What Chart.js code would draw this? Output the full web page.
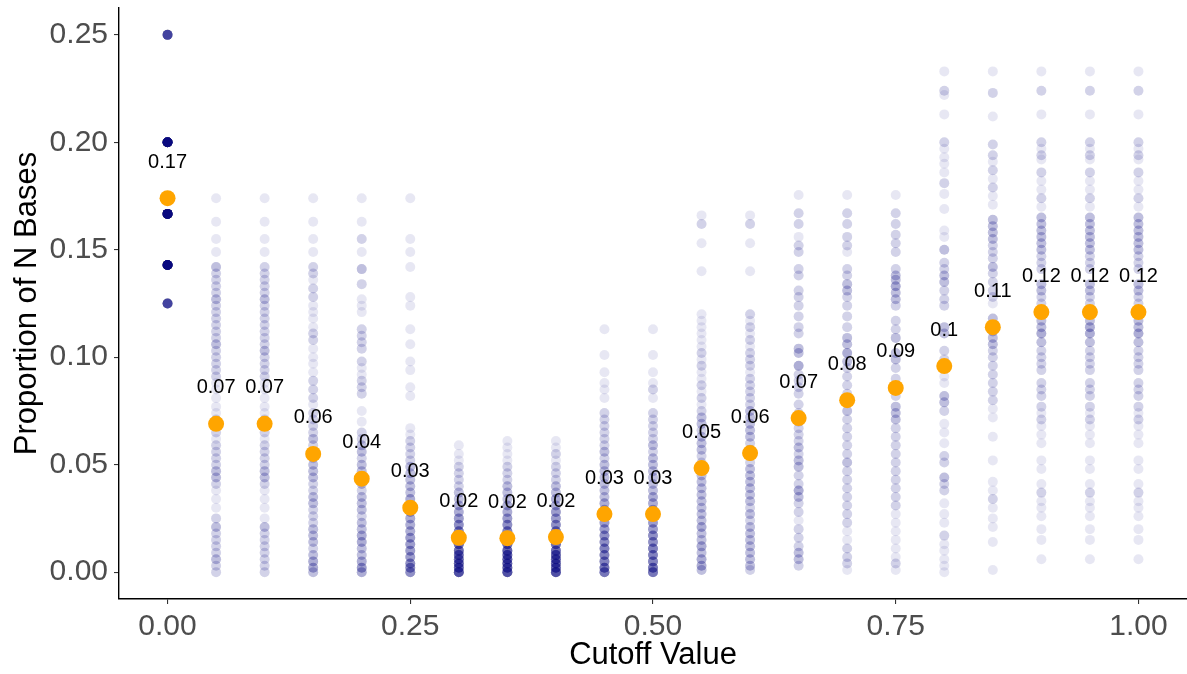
<!DOCTYPE html>
<html>
<head>
<meta charset="utf-8">
<script src="https://cdn.jsdelivr.net/npm/chart.js@4.4.1/dist/chart.umd.min.js"></script>
<style>
  html, body { margin: 0; padding: 0; background: #ffffff; }
  #wrap { width: 1187px; height: 674px; }
</style>
</head>
<body>
<div id="wrap"><canvas id="chart" width="1187" height="674"></canvas></div>
<script>
// cutoff values along the x axis
const cutoffs = [0.00, 0.05, 0.10, 0.15, 0.20, 0.25, 0.30, 0.35, 0.40, 0.45, 0.50,
                 0.55, 0.60, 0.65, 0.70, 0.75, 0.80, 0.85, 0.90, 0.95, 1.00];

// mean proportion per cutoff (orange dots) and their printed labels
const meanValues = [0.174, 0.069, 0.069, 0.055, 0.0435, 0.030, 0.016, 0.0158, 0.0163, 0.027, 0.027,
                    0.0484, 0.0554, 0.0717, 0.080, 0.0857, 0.0959, 0.114, 0.121, 0.121, 0.121];
const meanLabels = ['0.17', '0.07', '0.07', '0.06', '0.04', '0.03', '0.02', '0.02', '0.02', '0.03', '0.03',
                    '0.05', '0.06', '0.07', '0.08', '0.09', '0.1', '0.11', '0.12', '0.12', '0.12'];

// individual proportions per cutoff: distinct values ...
const spreadY = [
  [0.25, 0.2, 0.1667, 0.1429, 0.125],
  [0.174,0.163,0.155,0.149,0.142,0.139,0.136,0.133,0.130,0.127,0.124,0.121,0.118,0.115,0.112,0.109,0.106,0.103,0.100,0.097,0.094,0.091,0.088,0.085,0.081,0.077,0.074,0.071,0.068,0.065,0.062,0.059,0.056,0.053,0.050,0.047,0.044,0.041,0.038,0.034,0.030,0.025,0.021,0.018,0.015,0.012,0.009,0.006,0.003,0.000],
  [0.174,0.163,0.155,0.149,0.142,0.139,0.136,0.133,0.130,0.127,0.124,0.121,0.118,0.115,0.112,0.109,0.106,0.103,0.100,0.097,0.094,0.091,0.088,0.085,0.081,0.077,0.074,0.071,0.068,0.065,0.062,0.059,0.056,0.053,0.050,0.047,0.044,0.041,0.038,0.034,0.030,0.025,0.021,0.018,0.015,0.012,0.009,0.006,0.003,0.000],
  [0.174,0.163,0.155,0.149,0.142,0.139,0.136,0.132,0.128,0.124,0.121,0.118,0.114,0.111,0.108,0.104,0.100,0.097,0.093,0.089,0.085,0.081,0.078,0.074,0.071,0.068,0.065,0.062,0.059,0.056,0.053,0.050,0.047,0.044,0.041,0.038,0.035,0.032,0.029,0.026,0.023,0.020,0.017,0.014,0.011,0.008,0.005,0.002,0.000],
  [0.174,0.163,0.155,0.149,0.141,0.134,0.127,0.124,0.121,0.113,0.110,0.107,0.104,0.098,0.095,0.092,0.089,0.086,0.083,0.075,0.070,0.065,0.062,0.059,0.056,0.053,0.050,0.047,0.044,0.041,0.038,0.035,0.032,0.029,0.026,0.023,0.020,0.017,0.014,0.011,0.008,0.005,0.002,0.000],
  [0.174,0.155,0.149,0.142,0.128,0.124,0.113,0.106,0.098,0.094,0.086,0.082,0.067,0.064,0.061,0.058,0.055,0.052,0.049,0.046,0.043,0.040,0.037,0.034,0.031,0.028,0.025,0.022,0.019,0.016,0.013,0.010,0.007,0.004,0.002,0.000],
  [0.059,0.055,0.052,0.049,0.046,0.043,0.040,0.037,0.034,0.031,0.028,0.025,0.022,0.019,0.016,0.013,0.010,0.008,0.006,0.004,0.002,0.000],
  [0.061,0.058,0.055,0.052,0.049,0.046,0.043,0.040,0.037,0.034,0.031,0.028,0.025,0.022,0.019,0.016,0.013,0.010,0.008,0.006,0.004,0.002,0.000],
  [0.061,0.058,0.055,0.052,0.049,0.046,0.043,0.040,0.037,0.034,0.031,0.028,0.025,0.022,0.019,0.016,0.013,0.010,0.008,0.006,0.004,0.002,0.000],
  [0.113,0.101,0.093,0.088,0.085,0.081,0.074,0.071,0.068,0.065,0.062,0.059,0.056,0.053,0.050,0.047,0.044,0.041,0.038,0.035,0.032,0.029,0.026,0.023,0.020,0.017,0.014,0.011,0.008,0.005,0.002,0.000],
  [0.113,0.101,0.093,0.088,0.085,0.081,0.074,0.071,0.068,0.065,0.062,0.059,0.056,0.053,0.050,0.047,0.044,0.041,0.038,0.035,0.032,0.029,0.026,0.023,0.020,0.017,0.014,0.011,0.008,0.005,0.002,0.000],
  [0.166,0.162,0.153,0.140,0.120,0.117,0.114,0.111,0.108,0.105,0.102,0.099,0.096,0.093,0.090,0.087,0.084,0.081,0.078,0.075,0.072,0.069,0.066,0.063,0.060,0.057,0.054,0.051,0.048,0.045,0.042,0.039,0.036,0.033,0.030,0.027,0.024,0.021,0.018,0.015,0.012,0.009,0.006,0.003,0.001],
  [0.166,0.162,0.153,0.140,0.120,0.117,0.114,0.111,0.108,0.105,0.102,0.099,0.096,0.093,0.090,0.087,0.084,0.081,0.078,0.075,0.072,0.069,0.066,0.063,0.060,0.057,0.054,0.051,0.048,0.045,0.042,0.039,0.036,0.033,0.030,0.027,0.024,0.021,0.018,0.015,0.012,0.009,0.006,0.003,0.001],
  [0.1755,0.167,0.162,0.156,0.152,0.149,0.141,0.138,0.131,0.128,0.124,0.119,0.114,0.111,0.104,0.102,0.096,0.092,0.089,0.086,0.083,0.078,0.074,0.070,0.067,0.064,0.061,0.058,0.055,0.052,0.049,0.045,0.041,0.038,0.035,0.032,0.028,0.024,0.020,0.016,0.012,0.009,0.006,0.003],
  [0.1755,0.167,0.162,0.156,0.152,0.149,0.141,0.138,0.134,0.131,0.128,0.124,0.119,0.114,0.109,0.106,0.102,0.098,0.095,0.091,0.087,0.083,0.079,0.075,0.071,0.067,0.063,0.059,0.055,0.051,0.047,0.043,0.039,0.035,0.031,0.027,0.023,0.019,0.015,0.011,0.007,0.004,0.001],
  [0.1755,0.167,0.162,0.157,0.153,0.149,0.141,0.138,0.136,0.133,0.130,0.127,0.124,0.117,0.113,0.109,0.102,0.099,0.095,0.090,0.086,0.082,0.077,0.074,0.071,0.067,0.063,0.059,0.055,0.051,0.047,0.043,0.039,0.035,0.031,0.027,0.023,0.019,0.015,0.011,0.007,0.004,0.001],
  [0.233,0.224,0.222,0.213,0.200,0.197,0.193,0.190,0.186,0.181,0.176,0.169,0.159,0.156,0.150,0.144,0.141,0.138,0.135,0.131,0.127,0.124,0.114,0.111,0.103,0.099,0.095,0.091,0.088,0.082,0.079,0.075,0.069,0.065,0.060,0.054,0.051,0.044,0.041,0.038,0.032,0.027,0.023,0.017,0.013,0.010,0.006,0.003,0.000],
  [0.233,0.223,0.212,0.199,0.194,0.191,0.187,0.183,0.179,0.175,0.171,0.164,0.161,0.158,0.155,0.152,0.149,0.146,0.142,0.139,0.135,0.131,0.128,0.125,0.118,0.115,0.112,0.109,0.106,0.103,0.100,0.096,0.092,0.088,0.084,0.080,0.076,0.072,0.063,0.052,0.042,0.038,0.034,0.030,0.025,0.021,0.014,0.001],
  [0.233,0.224,0.213,0.200,0.197,0.194,0.192,0.186,0.182,0.178,0.174,0.170,0.165,0.162,0.159,0.156,0.153,0.150,0.147,0.144,0.141,0.134,0.131,0.128,0.125,0.120,0.117,0.114,0.111,0.107,0.103,0.100,0.097,0.094,0.088,0.085,0.082,0.077,0.074,0.071,0.068,0.064,0.060,0.052,0.048,0.041,0.037,0.033,0.030,0.026,0.020,0.015,0.006],
  [0.233,0.224,0.213,0.200,0.197,0.194,0.192,0.186,0.182,0.178,0.174,0.170,0.165,0.162,0.159,0.156,0.153,0.150,0.147,0.144,0.141,0.134,0.131,0.128,0.125,0.120,0.117,0.114,0.111,0.107,0.103,0.100,0.097,0.094,0.088,0.085,0.082,0.077,0.074,0.071,0.068,0.064,0.060,0.052,0.048,0.041,0.037,0.033,0.030,0.026,0.020,0.015,0.006],
  [0.233,0.224,0.213,0.200,0.197,0.194,0.192,0.186,0.182,0.178,0.174,0.170,0.165,0.162,0.159,0.156,0.153,0.150,0.147,0.144,0.141,0.134,0.131,0.128,0.125,0.120,0.117,0.114,0.111,0.107,0.103,0.100,0.097,0.094,0.088,0.085,0.082,0.077,0.074,0.071,0.068,0.064,0.060,0.052,0.048,0.041,0.037,0.033,0.030,0.026,0.020,0.015,0.006]
];
// ... and how many records sit on each of them
const spreadN = [
  [14, 44, 44, 44, 14],
  [1,1,1,1,3,2,2,2,2,3,2,2,2,2,2,2,3,2,2,2,2,2,1,1,1,1,1,2,2,2,1,2,2,2,2,3,3,2,1,1,1,2,3,2,2,2,2,3,2,2],
  [1,1,1,1,2,2,2,2,2,3,2,2,2,2,2,2,2,3,2,2,2,2,1,1,1,1,1,2,2,2,1,2,2,2,2,3,3,2,1,1,1,1,3,2,2,2,2,2,2,2],
  [1,1,1,1,2,2,1,2,2,1,1,1,1,2,2,1,1,1,1,2,2,2,1,2,2,2,2,3,2,2,2,3,3,3,2,2,3,3,2,2,2,3,3,3,2,3,4,4,3],
  [1,1,2,1,3,2,1,1,1,2,2,2,2,2,1,1,2,2,2,1,1,2,2,3,3,2,3,3,3,3,2,3,3,3,2,3,3,4,4,3,3,4,5,4],
  [1,1,1,1,1,1,1,1,1,1,1,1,1,1,2,2,2,2,3,3,3,3,3,4,4,4,4,4,4,5,5,5,5,6,6,6],
  [1,1,1,2,2,2,2,3,3,4,4,5,6,7,8,9,9,9,9,10,10,12],
  [1,1,1,1,2,2,2,3,3,3,4,4,5,6,7,8,9,10,10,10,10,10,12],
  [1,1,2,1,2,2,2,3,3,4,4,5,5,6,7,8,9,9,10,10,10,10,12],
  [1,1,1,1,1,1,2,2,2,2,2,2,3,2,3,3,3,3,3,3,4,4,4,5,5,6,6,7,7,7,8,8],
  [1,1,1,1,2,1,2,2,2,2,2,3,2,3,3,3,3,3,3,4,4,4,4,5,5,6,6,7,7,7,8,8],
  [1,2,1,1,1,1,1,1,1,1,2,1,2,1,1,2,1,2,1,2,3,3,2,3,3,3,2,2,2,3,3,3,3,3,3,3,3,4,3,3,4,3,4,4,3],
  [1,2,1,1,2,1,2,1,2,1,2,2,2,1,2,2,2,2,2,3,3,3,3,3,2,3,3,2,3,3,3,3,3,3,2,3,2,3,3,3,3,3,3,3,2],
  [1,2,2,1,2,2,2,2,2,2,2,2,2,2,3,3,4,2,2,2,2,2,2,2,2,2,2,3,2,3,3,2,2,4,3,2,2,1,2,2,2,3,3,2],
  [1,2,2,2,2,1,2,2,3,3,2,2,2,2,3,3,4,3,2,2,2,2,2,3,2,2,2,2,2,3,2,2,2,2,2,2,2,1,1,2,2,2,1],
  [1,2,2,2,2,2,2,3,3,4,3,3,2,2,2,3,3,3,2,2,2,2,3,3,3,2,2,2,2,2,2,2,2,2,2,1,1,1,1,1,1,2,1],
  [1,2,1,1,2,1,1,1,1,2,1,1,1,1,3,2,2,3,3,2,2,2,3,3,2,2,2,1,1,3,3,2,1,1,1,2,2,3,2,2,1,1,1,2,1,1,1,1,1],
  [1,2,1,2,2,1,2,1,2,1,1,3,3,3,3,2,2,2,3,2,2,2,2,1,3,3,3,3,3,2,2,2,2,2,2,2,1,1,1,1,1,1,2,1,1,1,1,1],
  [1,2,1,2,1,2,1,2,1,1,2,1,3,3,3,3,3,3,2,2,2,3,3,2,2,3,3,3,4,3,2,2,2,2,2,2,2,2,1,2,1,1,1,1,1,1,2,1,1,1,1,1,1],
  [1,2,1,2,1,2,1,2,1,1,2,1,3,3,3,3,3,3,2,2,2,3,3,2,2,3,3,4,4,3,2,2,2,2,2,2,2,2,1,2,1,1,1,1,1,1,2,1,1,1,1,1,1],
  [1,2,1,2,1,2,1,2,1,1,2,1,3,3,3,3,3,3,2,2,2,3,3,2,2,3,3,3,4,3,2,2,2,2,2,2,2,2,1,2,1,1,1,1,1,1,2,1,1,1,1,1,1]
];

const xTicks = [0, 0.25, 0.5, 0.75, 1];
const yTicks = [0, 0.05, 0.10, 0.15, 0.20, 0.25];

// expand the value/count lists into one point per record
const spreadPoints = [];
cutoffs.forEach(function(c, i) {
    spreadY[i].forEach(function(v, j) {
        for (let k = 0; k < spreadN[i][j]; k++) {
            spreadPoints.push({ x: c, y: v });
        }
    });
});
const meanPoints = cutoffs.map((c, i) => ({ x: c, y: meanValues[i] }));

// text labels above the mean dots
const meanLabelPlugin = {
    id: 'meanLabels',
    afterDatasetsDraw(chart) {
        const ctx = chart.ctx;
        const meta = chart.getDatasetMeta(0);
        ctx.save();
        ctx.font = '20px "Liberation Sans", Arial, sans-serif';
        ctx.fillStyle = '#000000';
        ctx.textAlign = 'center';
        ctx.textBaseline = 'middle';
        meta.data.forEach(function(pt, i) {
            ctx.fillText(meanLabels[i], pt.x, pt.y - 36);
        });
        ctx.restore();
    }
};

const tickFont = { family: '"Liberation Sans", Arial, sans-serif', size: 30 };
const titleFont = { family: '"Liberation Sans", Arial, sans-serif', size: 31 };

new Chart(document.getElementById('chart'), {
    type: 'scatter',
    data: {
        datasets: [
            {
                label: 'Mean',
                data: meanPoints,
                backgroundColor: '#FFA500',
                borderWidth: 0,
                pointRadius: 8
            },
            {
                label: 'Runs',
                data: spreadPoints,
                backgroundColor: 'rgba(0, 0, 128, 0.095)',
                borderWidth: 0,
                pointRadius: 5
            }
        ]
    },
    options: {
        responsive: false,
        animation: false,
        events: [],
        layout: { autoPadding: false, padding: { top: 8, right: 0, left: 0, bottom: 0 } },
        plugins: {
            legend: { display: false },
            tooltip: { enabled: false }
        },
        scales: {
            x: {
                type: 'linear',
                min: -0.05,
                max: 1.05,
                afterBuildTicks: scale => { scale.ticks = xTicks.map(v => ({ value: v })); },
                afterFit: scale => {
                    scale.height = 75;
                    scale.paddingLeft = 0;
                    scale.paddingRight = 0;
                },
                ticks: {
                    font: tickFont,
                    color: '#4D4D4D',
                    padding: 5,
                    maxRotation: 0,
                    callback: v => v.toFixed(2)
                },
                grid: { drawOnChartArea: false, drawTicks: true, tickLength: 5, color: '#333333', lineWidth: 1.1 },
                border: { display: true, color: '#000000', width: 1.4 },
                title: { display: true, text: 'Cutoff Value', font: titleFont, color: '#000000', padding: { top: 0, bottom: 0 } }
            },
            y: {
                type: 'linear',
                min: -0.0125,
                max: 0.2625,
                afterBuildTicks: scale => { scale.ticks = yTicks.map(v => ({ value: v })); },
                afterFit: scale => {
                    scale.width = 119;
                    scale.paddingTop = 0;
                    scale.paddingBottom = 0;
                },
                ticks: {
                    font: tickFont,
                    color: '#4D4D4D',
                    padding: 6,
                    callback: v => v.toFixed(2)
                },
                grid: { drawOnChartArea: false, drawTicks: true, tickLength: 5, color: '#333333', lineWidth: 1.1 },
                border: { display: true, color: '#000000', width: 1.4 },
                title: { display: true, text: 'Proportion of N Bases', font: titleFont, color: '#000000', padding: { top: 9, bottom: 0 } }
            }
        }
    },
    plugins: [meanLabelPlugin]
});
</script>
</body>
</html>
